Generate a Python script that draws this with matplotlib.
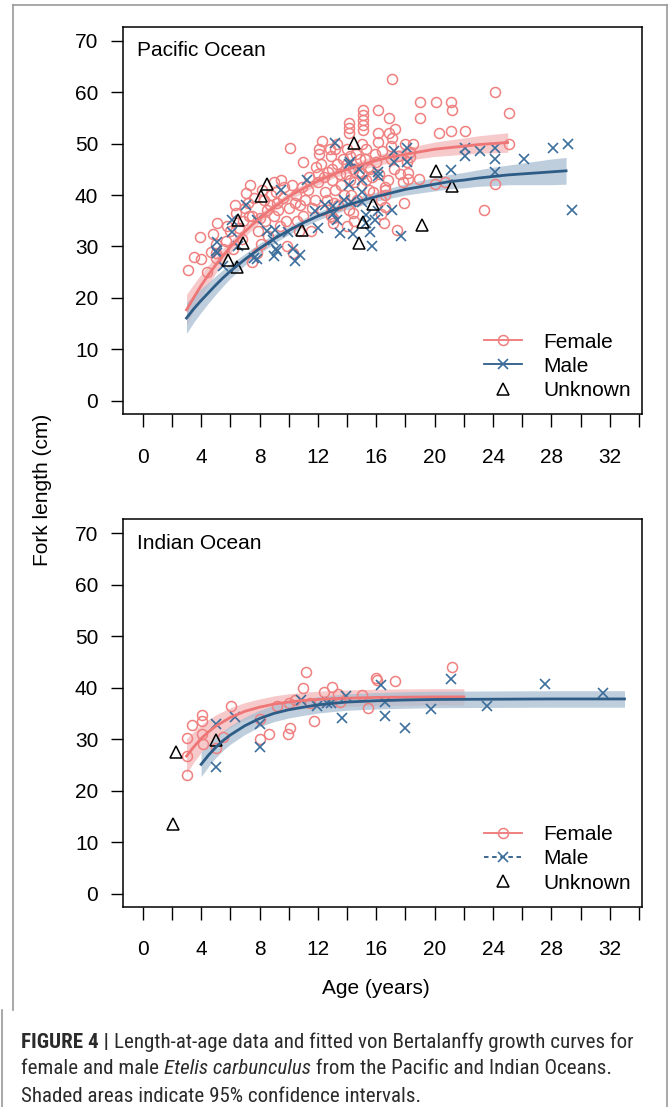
import matplotlib
matplotlib.use("Agg")
import matplotlib.pyplot as plt
from matplotlib.lines import Line2D
from matplotlib import font_manager

plt.rcParams['font.family'] = ['Liberation Sans', 'DejaVu Sans']

# ---------------- Pacific Ocean ----------------
pac_f_age = [3.1, 3.5, 4.0, 3.9, 4.4, 5.0, 5.1, 5.0, 5.0, 5.5, 5.7, 6.0, 6.3, 6.4, 6.6, 6.9, 7.1, 7.35,
             7.2, 7.5, 7.8, 7.5, 7.9, 8.0, 8.3, 8.5, 8.6, 8.8, 9.0, 9.2, 9.0, 9.5, 9.6, 9.8, 10.1, 10.0,
             10.3, 10.5, 10.6, 10.8, 11.0, 11.3, 11.5, 11.8, 12.1, 12.1, 12.0, 12.0, 12.3, 12.5, 12.8,
             12.9, 13.0, 13.0, 13.05, 13.05, 13.2, 13.3, 13.4, 13.5, 13.7, 14.1, 14.1, 14.1, 14.0, 14.0,
             14.2, 14.3, 14.1, 14.5, 14.4, 14.6, 14.8, 15.1, 15.1, 15.1, 15.1, 15.1, 15.0, 15.2, 15.3,
             15.5, 15.6, 16.1, 16.1, 16.1, 15.9, 16.3, 16.6, 16.6, 16.6, 16.6, 16.3, 16.9, 16.9, 17.1,
             17.3, 17.1, 17.2, 17.4, 17.0, 17.6, 18.1, 18.3, 18.3, 18.5, 18.2, 18.2, 18.9, 19.0, 19.0,
             20.1, 20.3, 20.0, 20.7, 21.1, 21.2, 21.1, 22.1, 23.4, 24.1, 24.1, 25.1, 25.1,
             7.0, 7.3, 7.6, 8.2, 8.4, 8.7, 9.1, 9.3, 9.4, 9.7, 10.2, 10.4, 10.9, 11.1, 11.4, 11.6,
             11.9, 12.2, 12.4, 12.6, 12.7, 13.1, 13.3, 13.6, 13.8, 13.9, 14.2, 14.4, 14.5, 14.7, 14.9,
             15.0, 15.3, 15.4, 15.7, 15.8, 16.0, 16.2, 16.4, 16.8, 17.0, 17.5, 17.8, 18.0, 13.2, 12.3,
             11.0, 6.8, 6.2, 5.8, 4.7, 4.8, 8.1, 9.9, 10.7, 12.9, 14.0, 16.5, 17.9]
pac_f_len = [25.5, 28.0, 27.5, 31.9, 25.0, 27.8, 34.5, 30.5, 28.7, 29.5, 31.0, 33.0, 38.1, 36.5, 33.5,
             35.0, 40.4, 42.0, 38.5, 26.9, 28.8, 36.0, 33.0, 35.5, 39.0, 37.0, 32.0, 40.0, 36.0, 38.5,
             42.5, 42.9, 39.5, 35.0, 49.1, 37.5, 28.8, 40.0, 35.0, 38.0, 36.0, 41.0, 33.0, 39.0, 48.9,
             48.0, 44.0, 42.5, 37.0, 40.5, 48.9, 47.5, 45.0, 43.0, 35.6, 34.6, 41.0, 50.0, 38.0, 44.0,
             47.0, 54.0, 53.0, 52.0, 49.0, 46.0, 43.0, 40.0, 37.0, 35.0, 36.5, 48.0, 44.5, 56.5, 55.5,
             54.6, 53.6, 52.7, 50.0, 47.0, 43.0, 41.0, 45.0, 56.5, 52.0, 50.3, 48.0, 39.0, 41.6, 41.0,
             40.0, 37.7, 36.4, 55.0, 52.0, 51.0, 52.9, 62.5, 45.1, 33.2, 47.0, 44.0, 46.4, 48.3, 47.3,
             49.9, 44.2, 43.1, 43.2, 55.0, 58.0, 58.0, 52.0, 42.1, 42.6, 58.0, 56.5, 52.5, 52.5, 37.0,
             60.1, 42.1, 56.0, 50.0,
             37.5, 36.0, 39.5, 41.0, 35.0, 38.0, 40.5, 37.0, 34.0, 41.5, 42.0, 38.5, 41.5, 39.0, 43.5,
             37.5, 45.5, 46.0, 43.5, 39.0, 44.5, 38.5, 46.0, 42.0, 40.0, 44.0, 47.5, 45.0, 42.5, 39.0,
             47.0, 44.0, 49.0, 45.5, 43.5, 40.5, 46.5, 44.0, 48.5, 43.0, 49.5, 47.5, 42.5, 50.0, 49.0,
             50.5, 46.5, 31.5, 29.5, 34.0, 29.0, 32.5, 30.5, 30.0, 33.0, 36.0, 34.0, 34.5, 38.5]

pac_m_age = [5.0, 5.07, 5.1, 5.5, 6.1, 6.1, 6.5, 7.1, 7.6, 7.8, 7.8, 8.5, 8.95, 9.0, 9.1, 9.2, 9.06,
             9.5, 9.97, 10.3, 10.4, 10.8, 11.23, 11.8, 12.0, 12.5, 13.05, 13.05, 13.17, 13.3, 13.5,
             13.8, 14.1, 14.1, 14.2, 14.4, 14.3, 14.8, 15.0, 15.0, 15.0, 15.3, 15.3, 15.6, 15.7, 15.9,
             16.1, 16.1, 16.1, 17.1, 17.2, 17.2, 17.7, 18.1, 18.1, 21.1, 22.1, 22.1, 23.1, 24.1, 24.1,
             24.1, 26.1, 28.1, 29.1, 29.4]
pac_m_len = [29.2, 30.9, 28.8, 26.2, 35.2, 32.9, 30.0, 38.1, 27.7, 27.5, 35.2, 33.0, 31.2, 28.1, 29.6,
             29.1, 33.2, 41.0, 32.9, 29.6, 27.1, 28.4, 42.9, 36.8, 33.5, 38.0, 37.8, 36.4, 50.1, 35.2,
             32.6, 39.0, 46.0, 41.9, 46.4, 32.5, 38.7, 45.0, 42.9, 40.6, 38.7, 36.2, 34.5, 32.9, 30.0,
             35.1, 44.5, 43.6, 36.8, 37.0, 48.5, 46.4, 32.0, 49.1, 46.4, 44.9, 49.1, 47.5, 48.6, 49.1,
             47.0, 44.4, 47.0, 49.1, 50.0, 37.0]

pac_u_age = [5.82, 6.44, 6.53, 6.85, 8.12, 8.49, 10.9, 14.47, 14.8, 15.1, 15.75, 19.1, 20.1, 21.2]
pac_u_len = [27.3, 26.1, 35.2, 30.6, 39.9, 42.2, 33.2, 50.2, 30.7, 34.8, 38.3, 34.2, 44.7, 41.8]

pac_f_curve_age = [3, 3.5, 4, 4.5, 5, 5.5, 6, 7, 8, 9, 10, 11, 12, 13, 14, 15, 16, 17, 18, 19, 20,
                   21, 22, 23, 24, 25]
pac_f_curve = [17.7, 20.1, 22.4, 24.5, 26.4, 28.2, 29.9, 32.9, 35.5, 37.7, 39.7, 41.3, 42.7, 44.0,
               45.0, 45.9, 46.7, 47.4, 47.9, 48.4, 48.9, 49.2, 49.5, 49.8, 50.0, 50.2]
pac_f_lo = [14.7, 17.5, 20.2, 22.6, 24.8, 26.8, 28.7, 31.9, 34.6, 36.9, 38.9, 40.5, 41.9, 43.2, 44.2,
            45.0, 45.7, 46.3, 46.7, 47.1, 47.5, 47.7, 47.9, 48.1, 48.2, 48.3]
pac_f_hi = [20.7, 22.7, 24.6, 26.4, 28.0, 29.6, 31.1, 33.9, 36.4, 38.5, 40.5, 42.1, 43.5, 44.8, 45.8,
            46.8, 47.7, 48.5, 49.1, 49.7, 50.3, 50.7, 51.1, 51.5, 51.8, 52.1]

pac_m_curve_age = [3, 3.5, 4, 4.5, 5, 5.5, 6, 7, 8, 9, 10, 11, 12, 13, 14, 15, 16, 17, 18, 19, 20,
                   21, 22, 23, 24, 25, 26, 27, 28, 29]
pac_m_curve = [16.1, 17.9, 19.5, 21.0, 22.5, 23.9, 25.2, 27.5, 29.6, 31.5, 33.1, 34.6, 35.9, 37.0,
               38.0, 38.9, 39.7, 40.4, 41.1, 41.6, 42.1, 42.6, 42.9, 43.3, 43.6, 43.9, 44.1, 44.3,
               44.5, 44.7]
pac_m_lo = [13.1, 15.3, 17.2, 19.0, 20.7, 22.3, 23.8, 26.4, 28.6, 30.6, 32.3, 33.8, 35.1, 36.2, 37.2,
            38.0, 38.8, 39.4, 40.0, 40.4, 40.8, 41.2, 41.4, 41.7, 41.8, 42.0, 42.0, 42.0, 42.0, 42.1]
pac_m_hi = [19.1, 20.5, 21.8, 23.0, 24.3, 25.5, 26.6, 28.6, 30.6, 32.4, 33.9, 35.4, 36.7, 37.8, 38.8,
            39.8, 40.6, 41.4, 42.2, 42.8, 43.4, 44.0, 44.4, 44.9, 45.4, 45.8, 46.2, 46.6, 47.0, 47.3]

# ---------------- Indian Ocean ----------------
ind_f_age = [3.0, 3.0, 3.06, 3.37, 4.03, 4.08, 4.08, 4.1, 5.5, 5.05, 6.05, 8.05, 8.05, 8.66, 9.2,
             9.93, 10.08, 10.0, 10.45, 11.0, 11.2, 11.7, 11.46, 12.4, 13.0, 13.4, 13.5, 15.0, 15.4,
             16.0, 16.05, 17.3, 21.2]
ind_f_len = [23.1, 26.7, 30.3, 32.7, 34.6, 33.5, 31.0, 29.0, 30.4, 28.3, 36.4, 34.0, 30.1, 31.0, 36.4,
             31.0, 32.1, 37.1, 37.5, 39.9, 43.1, 33.5, 37.1, 39.2, 40.1, 38.8, 37.3, 38.5, 36.1, 41.9,
             41.5, 41.2, 44.1]

ind_m_age = [5.05, 5.05, 6.3, 8.05, 8.05, 10.85, 11.95, 12.6, 12.9, 13.9, 13.65, 16.3, 16.6, 16.6,
             18.0, 19.75, 21.1, 23.6, 27.55, 31.5]
ind_m_len = [33.0, 24.6, 34.2, 32.9, 28.4, 37.5, 36.4, 37.1, 37.1, 38.4, 34.1, 40.5, 37.2, 34.4, 32.2,
             35.9, 41.6, 36.4, 40.8, 38.9]

ind_u_age = [2.28, 5.05, 2.1]
ind_u_len = [27.5, 29.8, 13.5]

ind_f_curve_age = [3, 3.5, 4, 4.5, 5, 6, 7, 8, 9, 10, 11, 12, 13, 14, 16, 18, 20, 22]
ind_f_curve = [26.7, 28.5, 30.1, 31.4, 32.5, 34.2, 35.4, 36.2, 36.8, 37.2, 37.5, 37.7, 37.85, 37.95,
               38.1, 38.15, 38.2, 38.2]
ind_f_lo = [23.3, 25.5, 27.4, 29.0, 30.3, 32.3, 33.7, 34.6, 35.2, 35.6, 35.9, 36.1, 36.25, 36.35,
            36.5, 36.55, 36.6, 36.6]
ind_f_hi = [30.1, 31.5, 32.8, 33.8, 34.7, 36.1, 37.1, 37.8, 38.4, 38.8, 39.1, 39.3, 39.45, 39.55,
            39.7, 39.75, 39.8, 39.8]

ind_m_curve_age = [4, 4.5, 5, 5.5, 6, 7, 8, 9, 10, 11, 12, 13, 14, 16, 18, 20, 24, 28, 33]
ind_m_curve = [25.1, 26.85, 28.4, 29.7, 30.8, 32.6, 34.0, 35.0, 35.7, 36.2, 36.65, 36.95, 37.2, 37.45,
               37.6, 37.7, 37.75, 37.8, 37.8]
ind_m_lo = [22.7, 24.65, 26.4, 27.8, 29.0, 30.9, 32.4, 33.4, 34.1, 34.6, 35.05, 35.35, 35.6, 35.85,
            36.0, 36.1, 36.15, 36.2, 36.2]
ind_m_hi = [27.5, 29.05, 30.4, 31.6, 32.6, 34.3, 35.6, 36.6, 37.3, 37.8, 38.25, 38.55, 38.8, 39.05,
            39.2, 39.3, 39.35, 39.4, 39.4]

x_major = [0, 4, 8, 12, 16, 20, 24, 28, 32]
x_minor = [2, 6, 10, 14, 18, 22, 26, 30, 34]
y_ticks = [0, 10, 20, 30, 40, 50, 60, 70]

F_PT = '#F08080'
F_LINE = '#EE7676'
F_BAND = '#F4B8BA'
M_PT = '#3C6E9B'
M_LINE = '#2D5C87'
M_BAND = '#A9BED1'
FS = 15

W, H = 669, 1107
fig = plt.figure(figsize=(W / 100, H / 100), dpi=100)

def px_box(l, t, r, b):
    return [l / W, 1 - b / H, (r - l) / W, (b - t) / H]

ax1 = fig.add_axes(px_box(123.3, 26.7, 641.7, 414.3))
ax2 = fig.add_axes(px_box(123.3, 519.3, 641.7, 906.9))


def panel(ax, title, fa, fl, ma, ml, ua, ul, fca, fc, flo, fhi, mca, mc, mlo, mhi, male_ls):
    ax.fill_between(fca, flo, fhi, color=F_BAND, alpha=0.75, lw=0, zorder=1)
    ax.fill_between(mca, mlo, mhi, color=M_BAND, alpha=0.75, lw=0, zorder=1)
    ax.plot(fa, fl, 'o', ms=7.2, mfc='none', mec=F_PT, mew=1.1, zorder=3)
    ax.plot(ma, ml, 'x', ms=7, mec=M_PT, mew=1.2, zorder=3)
    ax.plot(ua, ul, '^', ms=8.5, mfc='none', mec='black', mew=1.1, zorder=4)
    ax.plot(fca, fc, color=F_LINE, lw=2.0, zorder=5)
    ax.plot(mca, mc, color=M_LINE, lw=2.0, zorder=5)

    ax.set_xlim(-1.33, 34.18)
    ax.set_ylim(-2.6, 72.7)
    ax.set_xticks(x_major)
    ax.set_xticks(x_minor, minor=True)
    ax.set_yticks(y_ticks)
    ax.tick_params(axis='both', which='both', direction='out', length=9, width=1.0,
                   labelsize=FS, color='black')
    ax.tick_params(axis='x', which='both', pad=15)
    ax.tick_params(axis='y', pad=9)
    for s in ax.spines.values():
        s.set_linewidth(1.1)
    ax.text(0.026, 0.963, title, transform=ax.transAxes, fontsize=FS, ha='left', va='top')

    handles = [
        Line2D([], [], color=F_LINE, lw=1.3, marker='o', ms=7.2, mfc='none', mec=F_PT, mew=1.1),
        Line2D([], [], color=M_LINE, lw=1.3, ls=male_ls, marker='x', ms=7, mec=M_PT, mew=1.2),
        Line2D([], [], ls='none', marker='^', ms=8.5, mfc='none', mec='black', mew=1.1),
    ]
    ax.legend(handles, ['Female', 'Male', 'Unknown'], loc='lower left',
              bbox_to_anchor=(0.695, 0.037), frameon=False, fontsize=FS,
              handlelength=1.85, handletextpad=1.0, labelspacing=0.25, borderpad=0,
              borderaxespad=0)


panel(ax1, 'Pacific Ocean', pac_f_age, pac_f_len, pac_m_age, pac_m_len, pac_u_age, pac_u_len,
      pac_f_curve_age, pac_f_curve, pac_f_lo, pac_f_hi,
      pac_m_curve_age, pac_m_curve, pac_m_lo, pac_m_hi, '-')
panel(ax2, 'Indian Ocean', ind_f_age, ind_f_len, ind_m_age, ind_m_len, ind_u_age, ind_u_len,
      ind_f_curve_age, ind_f_curve, ind_f_lo, ind_f_hi,
      ind_m_curve_age, ind_m_curve, ind_m_lo, ind_m_hi, (0, (2.5, 2)))

fig.text(43 / W, 1 - 490 / H, 'Fork length (cm)', rotation=90, fontsize=FS, ha='center', va='center')
fig.text(376 / W, 1 - 988 / H, 'Age (years)', fontsize=FS, ha='center', va='center')

# outer frame
frame_kw = dict(color='#9a9a9a', lw=1.2, transform=fig.transFigure)
fig.add_artist(Line2D([13 / W, 667 / W], [1 - 5 / H, 1 - 5 / H], **frame_kw))
fig.add_artist(Line2D([667 / W, 667 / W], [0, 1 - 5 / H], **frame_kw))
fig.add_artist(Line2D([13 / W, 13 / W], [1 - 1010 / H, 1 - 5 / H], **frame_kw))
fig.add_artist(Line2D([2 / W, 2 / W], [0, 1 - 1010 / H], **frame_kw))


# caption
def pick(names):
    for n in names:
        try:
            font_manager.findfont(n, fallback_to_default=False)
            return n
        except Exception:
            pass
    return 'DejaVu Sans'

cap_font = pick(['Liberation Sans Narrow', 'Roboto Condensed', 'Liberation Sans'])
cap_lines = [
    [('FIGURE 4 | ', 'bold', 'normal'),
     ('Length-at-age data and fitted von Bertalanffy growth curves for', 'normal', 'normal')],
    [('female and male ', 'normal', 'normal'), ('Etelis carbunculus', 'normal', 'italic'),
     (' from the Pacific and Indian Oceans.', 'normal', 'normal')],
    [('Shaded areas indicate 95% confidence intervals.', 'normal', 'normal')],
]
cap_y = [1042, 1069, 1096]
renderer = fig.canvas.get_renderer()


def line_width(pieces, size):
    tot = 0
    for s, wgt, sty in pieces:
        t = fig.text(0, 0, s.replace(' ', '\u00a0'), fontsize=size, fontweight=wgt, fontstyle=sty,
                     family=[cap_font, 'DejaVu Sans'])
        tot += t.get_window_extent(renderer).width
        t.remove()
    return tot

cap_size = 12.0
cap_size = cap_size * 611 / line_width(cap_lines[0], cap_size)
for pieces, yy in zip(cap_lines, cap_y):
    x = 21
    for s, wgt, sty in pieces:
        t = fig.text(x / W, 1 - yy / H, s.replace(' ', '\u00a0'), fontsize=cap_size, fontweight=wgt,
                     fontstyle=sty, color='#2b2b2b', va='center', ha='left',
                     family=[cap_font, 'DejaVu Sans'])
        x += t.get_window_extent(renderer).width

fig.savefig('out.png', dpi=100)
